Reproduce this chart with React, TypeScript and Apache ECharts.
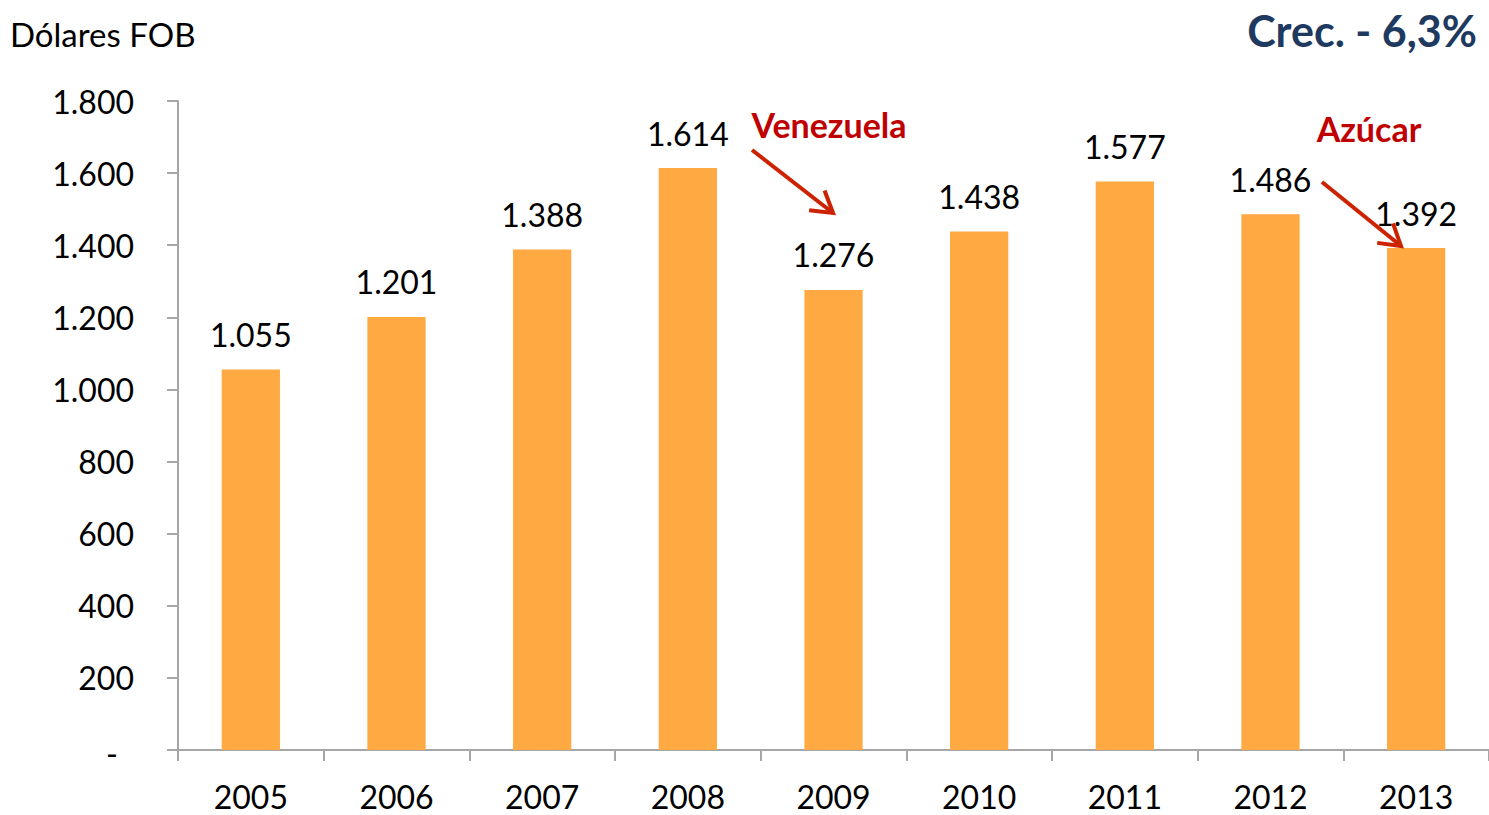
import React, { useEffect, useRef } from "react";
import * as echarts from "echarts";

const years = ["2005", "2006", "2007", "2008", "2009", "2010", "2011", "2012", "2013"];
const values = [1055, 1201, 1388, 1614, 1276, 1438, 1577, 1486, 1392];
const yTicks = { min: 0, max: 1800, interval: 200 };
const unitLabel = "Dólares FOB";
const growthLabel = "Crec. - 6,3%";
const notes = [
  { text: "Venezuela", x: 829, y: 124, from: [752, 150], to: [833, 213] },
  { text: "Azúcar", x: 1369, y: 128, from: [1322, 182], to: [1401, 246] },
];

const FONT = "Lato, 'Open Sans', sans-serif";

const fmt = (v: number) => {
  const s = Math.round(v).toString();
  return s.replace(/\B(?=(\d{3})+(?!\d))/g, ".");
};

function arrowHead(from: number[], to: number[], len: number, ang: number) {
  const a = Math.atan2(to[1] - from[1], to[0] - from[0]);
  const p1 = [to[0] - len * Math.cos(a - ang), to[1] - len * Math.sin(a - ang)];
  const p2 = [to[0] - len * Math.cos(a + ang), to[1] - len * Math.sin(a + ang)];
  return [p1, to, p2];
}

export default function App() {
  const ref = useRef<HTMLDivElement>(null);
  useEffect(() => {
    document.body.style.margin = "0";
    const chart = echarts.init(ref.current!, undefined, { renderer: "svg" });
    const red = "#C00000";
    const arrowColor = "#CC2200";
    const graphics: any[] = [
      {
        type: "text",
        style: { text: unitLabel, x: 10, y: 34, font: `33px ${FONT}`, fill: "#000", textVerticalAlign: "middle" },
      },
      {
        type: "text",
        style: { text: growthLabel, x: 1477, y: 30, font: `bold 43px ${FONT}`, fill: "#1F3A60", textAlign: "right", textVerticalAlign: "middle" },
      },
    ];
    notes.forEach((n) => {
      graphics.push({
        type: "text",
        style: { text: n.text, x: n.x, y: n.y, font: `bold 34px ${FONT}`, fill: red, textAlign: "center", textVerticalAlign: "middle" },
        z: 10,
      });
      graphics.push({
        type: "line",
        shape: { x1: n.from[0], y1: n.from[1], x2: n.to[0], y2: n.to[1] },
        style: { stroke: arrowColor, lineWidth: 4 },
        z: 10,
      });
      graphics.push({
        type: "polyline",
        shape: { points: arrowHead(n.from, n.to, 24, 0.55) },
        style: { stroke: arrowColor, lineWidth: 4, fill: null },
        z: 10,
      });
    });
    chart.setOption({
      animation: false,
      grid: { left: 178, top: 101, width: 1313, bottom: 65, containLabel: false },
      xAxis: {
        type: "category",
        data: years,
        axisLine: { show: true, lineStyle: { color: "#A6A6A6", width: 2 } },
        axisTick: { show: true, length: 11, alignWithLabel: false, lineStyle: { color: "#A6A6A6", width: 2 } },
        axisLabel: { color: "#000", fontSize: 32, fontFamily: FONT, margin: 30, lineHeight: 32 },
      },
      yAxis: {
        type: "value",
        min: yTicks.min,
        max: yTicks.max,
        interval: yTicks.interval,
        splitLine: { show: false },
        axisLine: { show: true, lineStyle: { color: "#A6A6A6", width: 2 } },
        axisTick: { show: true, length: 11, lineStyle: { color: "#A6A6A6", width: 2 } },
        axisLabel: {
          color: "#000",
          fontSize: 32,
          fontFamily: FONT,
          margin: 44,
          formatter: (v: number) => (v === 0 ? "{d|-}" : fmt(v)),
          rich: { d: { fontSize: 32, fontFamily: FONT, color: "#000", padding: [6, 16, 0, 0] } },
        },
      },
      series: [
        {
          type: "bar",
          data: values,
          barWidth: "40%",
          itemStyle: { color: "#FFA942" },
          label: {
            show: true,
            position: "top",
            distance: 19,
            color: "#000",
            fontSize: 32,
            fontFamily: FONT,
            formatter: (p: any) => fmt(p.value),
          },
        },
      ],
      graphic: graphics,
    });
    return () => chart.dispose();
  }, []);
  return <div ref={ref} style={{ width: 1489, height: 815 }} />;
}
